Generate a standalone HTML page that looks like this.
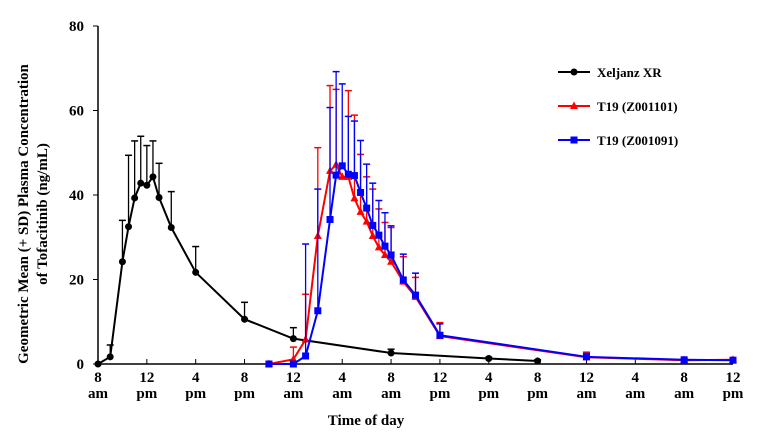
<!DOCTYPE html>
<html><head><meta charset="utf-8"><style>
body{margin:0;background:#fff}
svg{display:block;font-family:"Liberation Serif",serif;font-weight:bold}
</style></head><body>
<svg id="chart" width="757" height="448" viewBox="0 0 757 448">
<g id="axes"></g><g id="series"></g>
<text x="366" y="425" font-size="15" text-anchor="middle">Time of day</text>
<g transform="translate(28,214) rotate(-90)">
<text x="0" y="0" font-size="15" text-anchor="middle">Geometric Mean (+ SD) Plasma Concentration</text>
<text x="0" y="19" font-size="15" text-anchor="middle">of Tofacitinib  (ng/mL)</text>
</g>
<g id="legend"></g>
</svg>
<script>
const xTickLabels=["8","12","4","8","12","4","8","12","4","8","12","4","8","12"];
const xTickSub=["am","pm","pm","pm","am","am","am","pm","pm","pm","am","am","am","pm"];
const yTicks=[0,20,40,60,80];
const blackT=[0,1,2,2.5,3,3.5,4,4.5,5,6,8,12,16,24,32,36];
const blackV=[0,1.7,24.2,32.5,39.3,42.8,42.3,44.3,39.4,32.3,21.7,10.6,6.0,2.6,1.3,0.7];
const blackE=[0,4.5,34,49.4,52.8,53.9,51.7,52.8,47.5,40.8,27.8,14.6,8.6,3.5,1.6,1.0];
const redT=[14,16,17,18,19,19.5,20,20.5,21,21.5,22,22.5,23,23.5,24,25,26,28,40,48,52];
const redV=[0,1.1,5.8,30.3,45.7,47.2,44.3,44.3,39.2,36.0,33.7,30.3,27.6,25.8,24.2,19.5,15.9,6.6,1.6,0.9,1.0];
const redE=[0,4.0,16.5,51.2,65.9,65,44.3,64.7,58.9,49.6,44.3,41.4,36.7,33.5,32.3,25.4,20.5,9.8,2.8,1.2,1.5];
const blueT=[14,16,17,18,19,19.5,20,20.5,21,21.5,22,22.5,23,23.5,24,25,26,28,40,48,52];
const blueV=[0,0,1.9,12.6,34.2,44.7,46.9,44.9,44.6,40.6,36.9,32.8,30.5,27.9,25.8,19.9,16.3,6.8,1.7,1.0,0.9];
const blueE=[0,0,28.4,41.4,60.7,69.2,66.3,58.6,57.5,52.9,47.3,42.8,38.7,35.8,32.7,26,21.5,9.5,2.5,1.2,1.1];
const NS="http://www.w3.org/2000/svg";
const X=h=>98+h*(635/52), Y=v=>364-v*(338/80);
function mk(t,a,p){const e=document.createElementNS(NS,t);for(const k in a)e.setAttribute(k,a[k]);p.appendChild(e);return e;}
const ax=document.getElementById('axes');
let l=mk('line',{x1:98,y1:26,x2:98,y2:364,stroke:'#000','stroke-width':1.5},ax);


l=mk('line',{x1:98,y1:364,x2:733,y2:364,stroke:'#000','stroke-width':1.5},ax);


yTicks.forEach(v=>{
 mk('line',{x1:93,y1:Y(v),x2:98,y2:Y(v),stroke:'#000'},ax);
 const t=mk('text',{x:84,y:Y(v)+5,'font-size':15,'text-anchor':'end'},ax);t.textContent=v;
 
 
});
xTickLabels.forEach((s,i)=>{
 const x=X(i*4);
 mk('line',{x1:x,y1:359,x2:x,y2:364,stroke:'#000'},ax);
 const t=mk('text',{x:x,y:382,'font-size':15,'text-anchor':'middle'},ax);t.textContent=s;
 
 
 const u=mk('text',{x:x,y:398,'font-size':15,'text-anchor':'middle'},ax);u.textContent=xTickSub[i];
 
 
});
const sg=document.getElementById('series');
function series(T,V,E,col,shape,name){
 const g=mk('g',{},sg);
 
 
 T.forEach((t,i)=>{if(E[i]>V[i]){const x=X(t);
  mk('line',{x1:x,y1:Y(V[i]),x2:x,y2:Y(E[i]),stroke:col,'stroke-width':1.3},g);
  mk('line',{x1:x-3.5,y1:Y(E[i]),x2:x+3.5,y2:Y(E[i]),stroke:col,'stroke-width':1.5},g);}});
 mk('polyline',{points:T.map((t,i)=>X(t)+','+Y(V[i])).join(' '),fill:'none',stroke:col,'stroke-width':2},g);
 T.forEach((t,i)=>{const m=marker(X(t),Y(V[i]),col,shape,g);
  
  });
}
function marker(x,y,col,shape,g){
 if(shape==='c')return mk('circle',{cx:x,cy:y,r:3.5,fill:col},g);
 if(shape==='s')return mk('rect',{x:x-3.5,y:y-3.5,width:7,height:7,fill:col},g);
 return mk('polygon',{points:`${x},${y-4.5} ${x+4},${y+3} ${x-4},${y+3}`,fill:col},g);
}
series(blackT,blackV,blackE,'#000','c','series-xeljanz-xr');
series(redT,redV,redE,'#f00','t','series-t19-z001101');
series(blueT,blueV,blueE,'#00f','s','series-t19-z001091');
const lg=document.getElementById('legend');
[['Xeljanz XR','#000','c',72],['T19 (Z001101)','#f00','t',106],['T19 (Z001091)','#00f','s',140]].forEach(r=>{
 const g=mk('g',{},lg);
 
 
 mk('line',{x1:558,y1:r[3],x2:590,y2:r[3],stroke:r[1],'stroke-width':2},g);
 marker(574,r[3],r[1],r[2],g);
 const t=mk('text',{x:597,y:r[3]+5,'font-size':13},g);t.textContent=r[0];
});
</script>
</body></html>
